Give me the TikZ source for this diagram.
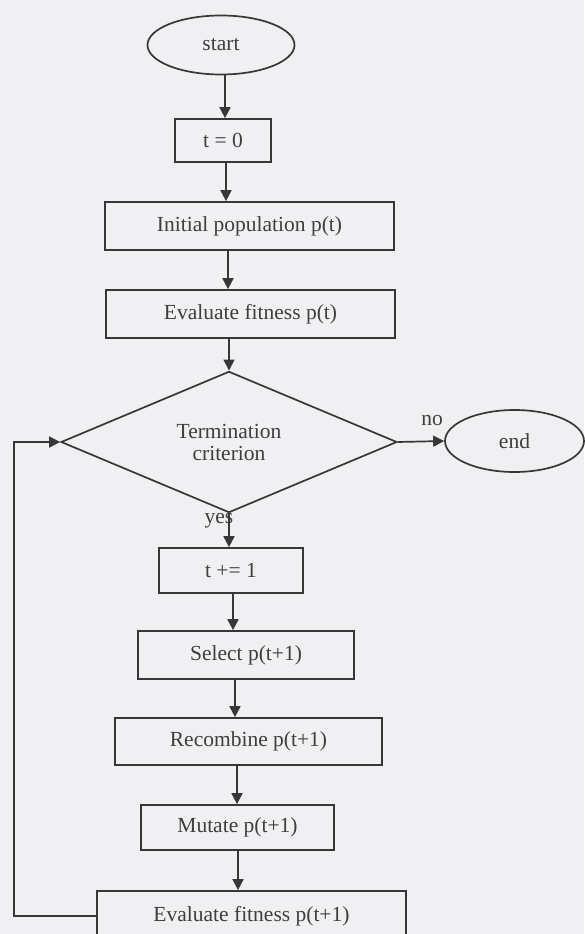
\documentclass[tikz,border=0pt]{standalone}
\usepackage{fontspec}
\setmainfont{Liberation Serif}
\usetikzlibrary{shapes.geometric,arrows.meta}
\definecolor{paper}{RGB}{240,239,242}
\definecolor{ink}{RGB}{55,55,55}
\definecolor{txt}{RGB}{62,62,62}
\begin{document}
\begin{tikzpicture}[x=1pt,y=-1pt,
  base/.style={draw=ink,line width=1.7pt,text=txt,inner sep=0pt,
    font=\fontsize{21.5pt}{25pt}\selectfont},
  stepbox/.style={base,rectangle},
  term/.style={base,ellipse},
  decide/.style={base,diamond,align=center},
  lbl/.style={text=txt,inner sep=0pt,font=\fontsize{21.5pt}{25pt}\selectfont},
  arr/.style={draw=ink,line width=1.7pt,-{Triangle[length=11pt,width=11pt]}}]
\fill[paper] (0,0) rectangle (584,934);
\useasboundingbox (0,0) rectangle (584,934);

\node[term,minimum width=147pt,minimum height=59pt] (start) at (221,45) {start};
\node[stepbox,minimum width=96pt,minimum height=43pt] (t0) at (223,140.5) {t = 0};
\node[stepbox,minimum width=289pt,minimum height=48pt] (init) at (249.5,226) {Initial population p(t)};
\node[stepbox,minimum width=289pt,minimum height=48pt] (evalp) at (250.5,314) {Evaluate fitness p(t)};
\node[decide,minimum width=336pt,minimum height=127pt] (crit) at (229,442) {Termination\\[-3pt]criterion};
\node[term,minimum width=139pt,minimum height=62pt] (end) at (514.5,441) {end};
\node[stepbox,minimum width=144pt,minimum height=45pt] (t1) at (231,570.5) {t += 1};
\node[stepbox,minimum width=216pt,minimum height=48pt] (sel) at (246,655) {Select p(t+1)};
\node[stepbox,minimum width=267pt,minimum height=47pt] (rec) at (248.5,741.5) {Recombine p(t+1)};
\node[stepbox,minimum width=193pt,minimum height=45pt] (mut) at (237.5,827.5) {Mutate p(t+1)};
\node[stepbox,minimum width=309pt,minimum height=50pt] (evalq) at (251.5,916) {Evaluate fitness p(t+1)};

\node[lbl] (no) at (432,421) {no};
\node[lbl] (yes) at (219,521) {yes};

\draw[arr] (start.south -| 225,0) -- (t0.north -| 225,0);
\draw[arr] (t0.south -| 226,0) -- (init.north -| 226,0);
\draw[arr] (init.south -| 228,0) -- (evalp.north -| 228,0);
\draw[arr] (evalp.south -| crit.north) -- (crit.north);
\draw[arr] (crit.east) -- (end.west);
\draw[arr] (crit.south) -- (t1.north -| crit.south);
\draw[arr] (t1.south -| 233,0) -- (sel.north -| 233,0);
\draw[arr] (sel.south -| 235,0) -- (rec.north -| 235,0);
\draw[arr] (rec.south -| 237,0) -- (mut.north -| 237,0);
\draw[arr] (mut.south -| 238,0) -- (evalq.north -| 238,0);
\draw[arr] (evalq.west) -- ++(-82,0) |- (crit.west);
\end{tikzpicture}
\end{document}
